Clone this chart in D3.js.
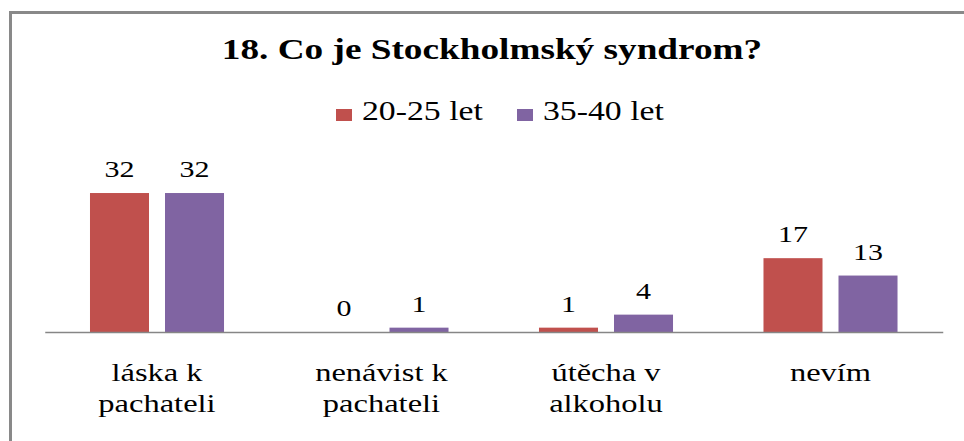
<!DOCTYPE html>
<html>
<head>
<meta charset="utf-8">
<script src="https://cdn.jsdelivr.net/npm/d3@7"></script>
<style>
  html, body { margin: 0; padding: 0; background: #fff; }
  svg { display: block; }
</style>
</head>
<body>
<script>
// Chart data
const categories = ["láska k\npachateli", "nenávist k\npachateli", "útěcha v\nalkoholu", "nevím"];
const seriesNames = ["20-25 let", "35-40 let"];
const values2025 = [32, 0, 1, 17];
const values3540 = [32, 1, 4, 13];
const seriesColors = ["#C0504D", "#8064A2"];
const titleText = "18. Co je Stockholmský syndrom?";

const W = 964, H = 441;
const stretch = 1.25; // horizontal widening applied to text glyphs
const FONT = "'Liberation Serif', 'Times New Roman', Tinos, serif";

const svg = d3.select("body").append("svg")
  .attr("width", W).attr("height", H);

// Frame around the chart
svg.append("rect")
  .attr("x", 10.5).attr("y", 12.5)
  .attr("width", W + 20).attr("height", H + 20)
  .attr("fill", "none")
  .attr("stroke", "#898989")
  .attr("stroke-width", 3);

// Helper: text widened horizontally around its anchor
function stretchedText(g, x, y, str, size, weight, anchor) {
  return g.append("text")
    .attr("transform", `translate(${x},${y}) scale(${stretch},1)`)
    .attr("text-anchor", anchor || "middle")
    .attr("font-family", FONT)
    .attr("font-size", size)
    .attr("font-weight", weight || "normal")
    .attr("fill", "#000")
    .text(str);
}

// Title
stretchedText(svg, 492, 59, titleText, 29.8, "bold");

// Legend
const legendItems = [
  { name: seriesNames[0], color: seriesColors[0], x: 336 },
  { name: seriesNames[1], color: seriesColors[1], x: 517 }
];
const legend = svg.append("g");
legendItems.forEach(it => {
  legend.append("rect")
    .attr("x", it.x).attr("y", 109)
    .attr("width", 16).attr("height", 12)
    .attr("fill", it.color);
  stretchedText(legend, it.x + 26, 120, it.name, 27, "normal", "start");
});

// Scales
const x0 = d3.scaleBand()
  .domain(categories)
  .range([44.75, 942.75])
  .paddingInner(0).paddingOuter(0);

const x1 = d3.scaleBand()
  .domain(seriesNames)
  .range([0, x0.bandwidth()])
  .paddingInner(0.2133)
  .paddingOuter(0.603);

const y = d3.scaleLinear().domain([0, 35]).range([332, 180]);

const rows = categories.map((c, i) => ({
  cat: c,
  vals: [
    { s: seriesNames[0], v: values2025[i], color: seriesColors[0] },
    { s: seriesNames[1], v: values3540[i], color: seriesColors[1] }
  ]
}));

const groups = svg.append("g").selectAll("g")
  .data(rows).join("g")
  .attr("transform", d => `translate(${x0(d.cat)},0)`);

groups.selectAll("rect")
  .data(d => d.vals).join("rect")
  .attr("x", d => x1(d.s))
  .attr("y", d => y(d.v))
  .attr("width", x1.bandwidth())
  .attr("height", d => y(0) - y(d.v))
  .attr("fill", d => d.color);

// Value labels
groups.each(function(d) {
  const g = d3.select(this);
  d.vals.forEach(p => {
    stretchedText(g, x1(p.s) + x1.bandwidth() / 2, y(p.v) - 16, String(p.v), 24);
  });
});

// Category axis line
const axis = d3.axisBottom(x0).tickSize(0).tickSizeOuter(0).tickFormat("");
const axisG = svg.append("g").attr("transform", `translate(0,${y(0)})`).call(axis);
axisG.select(".domain").attr("stroke", "#868686").attr("stroke-width", 1.5);

// Category labels (two lines)
const labels = svg.append("g");
categories.forEach(c => {
  const cx = x0(c) + x0.bandwidth() / 2;
  c.split("\n").forEach((line, j) => {
    stretchedText(labels, cx, 381 + j * 30.5, line, 26);
  });
});
</script>
</body>
</html>
